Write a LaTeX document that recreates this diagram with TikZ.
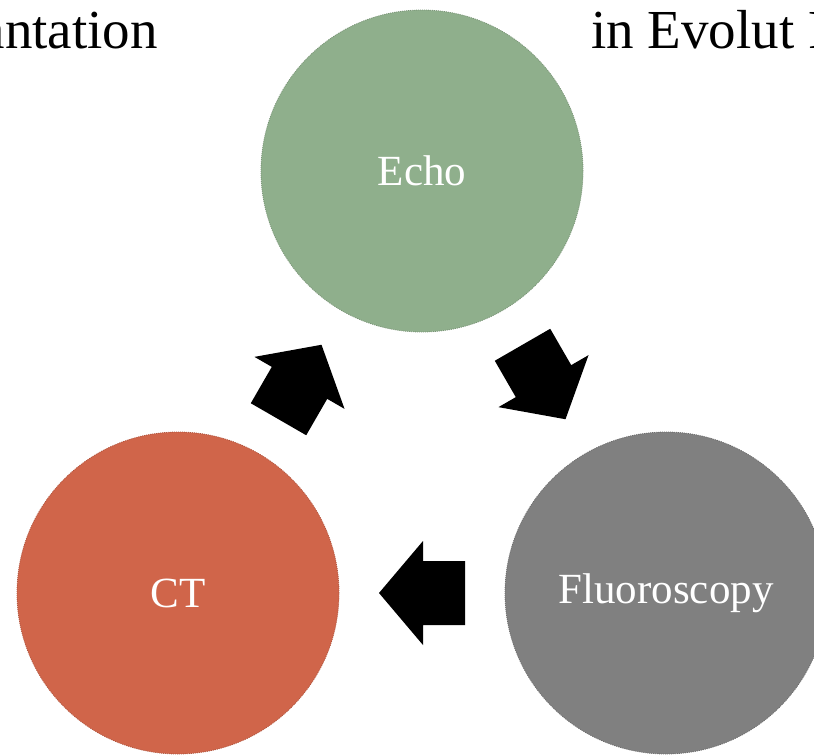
\documentclass[tikz,border=0pt]{standalone}
\usepackage{fontspec}
\setmainfont{Liberation Serif}
\usetikzlibrary{calc}
\definecolor{echoG}{HTML}{8FAF8C}
\definecolor{ctR}{HTML}{D0654A}
\definecolor{fluoG}{HTML}{808080}
\tikzset{
  disc/.style={circle, minimum size=322pt, inner sep=0pt, text=white,
    font=\fontsize{43}{48}\selectfont, line width=0.8pt, dash pattern=on 1pt off 1pt},
  toptext/.style={inner sep=0pt, font=\fontsize{55}{60}\selectfont, text=black},
  blockarrow/.style={fill=black}
}
\begin{document}
\begin{tikzpicture}[x=1pt,y=-1pt]
\useasboundingbox (0,0) rectangle (814,755);
\clip (0,0) rectangle (814,755);
\node[toptext, anchor=base east] (t1) at (158,48) {antation};
\node[toptext, anchor=base west] (t2) at (591,48) {in Evolut F};
\node[disc, fill=echoG, draw=echoG!85!black] (echo) at (422,171) {Echo};
\node[disc, fill=ctR, draw=ctR!85!black] (ct) at (178,593) {CT};
\node[disc, fill=fluoG, draw=fluoG!85!black] (fluo) at (666,593) {Fluoroscopy};
\coordinate (m1) at ($(ct.center)!0.5!(echo.center)$);
\coordinate (m2) at ($(echo.center)!0.5!(fluo.center)$);
\coordinate (m3) at ($(fluo.center)!0.5!(ct.center)$);
\foreach \m/\a in {m1/60, m2/-60, m3/180}{
  \fill[blockarrow, shift={(\m)}, rotate=\a]
    (-43,-32) -- (-1,-32) -- (-1,-52) -- (43,0) -- (-1,52) -- (-1,32) -- (-43,32) -- cycle;
}
\end{tikzpicture}
\end{document}
